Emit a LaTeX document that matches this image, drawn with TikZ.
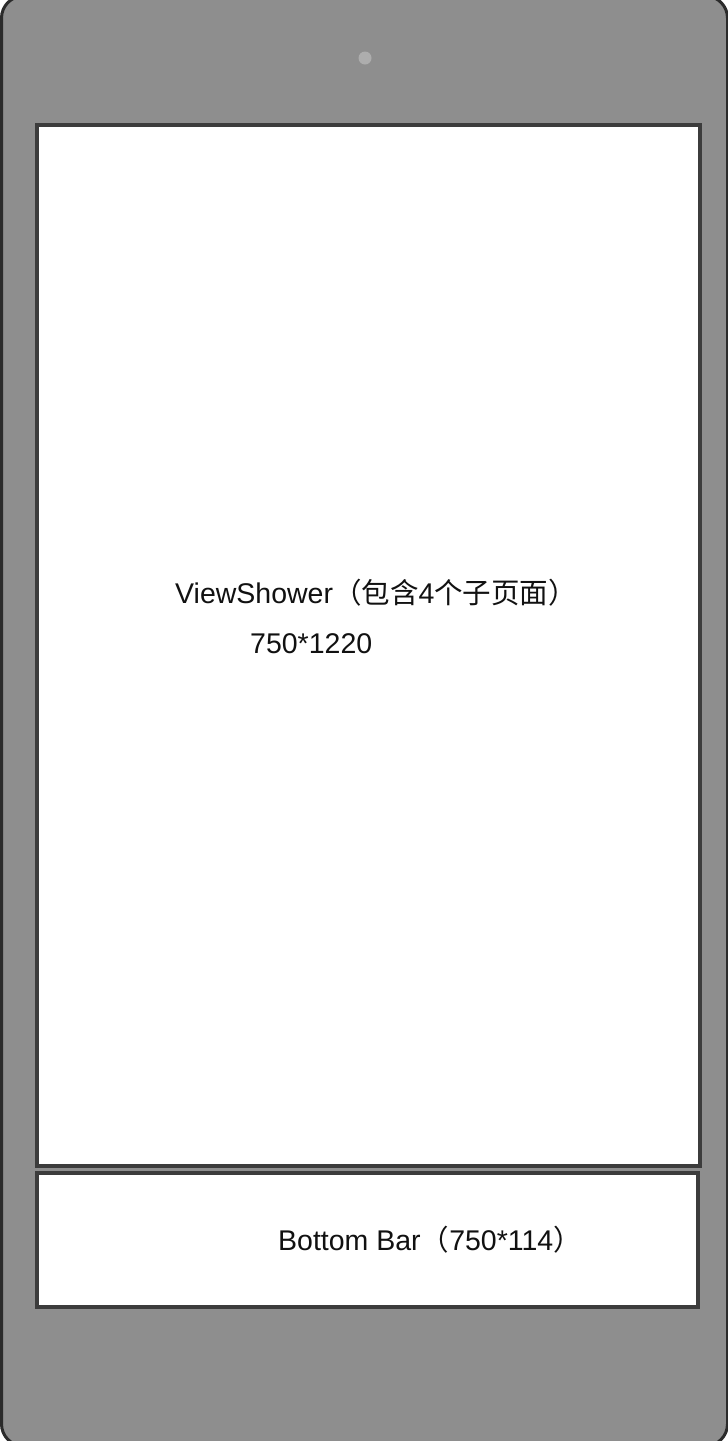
\documentclass[tikz,border=0pt]{standalone}
\usepackage{fontspec}
\setmainfont{Liberation Sans}
\newfontfamily\cjk{Noto Sans CJK SC}
\definecolor{bodygray}{HTML}{8E8E8E}
\definecolor{bodyline}{HTML}{2B2B2B}
\definecolor{frameline}{HTML}{3C3C3C}
\definecolor{camgray}{HTML}{ADADAD}
\definecolor{txt}{HTML}{111111}
\tikzset{
  phonebody/.style={fill=bodygray, draw=bodyline, line width=3pt, rounded corners=22pt},
  panel/.style={fill=white, draw=frameline, line width=3.5pt},
  label/.style={text=txt, font=\fontsize{28.5}{31}\selectfont, inner sep=0pt, anchor=base west},
  camera/.style={fill=camgray, draw=none}
}
\begin{document}
\begin{tikzpicture}[x=1pt,y=-1pt]
\useasboundingbox (0,0) rectangle (728,1441);
\clip (0,0) rectangle (728,1441);
\draw[phonebody] (1.5,-4) rectangle (727.5,1446);
\fill[camera] (365,58) circle (6.5);
\node[panel, minimum width=663pt, minimum height=1041pt, anchor=north west, inner sep=0pt] (screen) at (35,123) {};
\node[panel, minimum width=661pt, minimum height=134pt, anchor=north west, inner sep=0pt] (bar) at (35,1171) {};
\node[label] (vs) at (175,603) {ViewShower{\cjk （包含}4{\cjk 个子页面）}};
\node[label] (vsz) at (250,653) {750*1220};
\node[label] (bb) at (278,1250) {Bottom Bar{\cjk （}750*114{\cjk ）}};
\end{tikzpicture}
\end{document}
